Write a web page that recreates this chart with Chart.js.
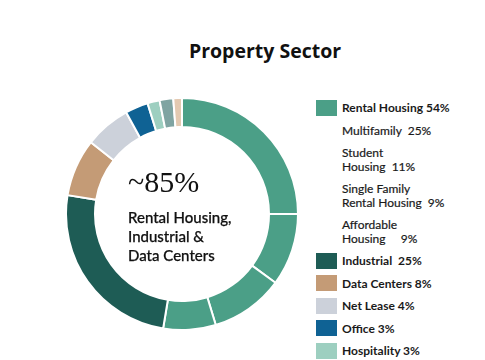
<!DOCTYPE html>
<html>
<head>
<meta charset="utf-8">
<script src="https://cdn.jsdelivr.net/npm/chart.js@4.4.1/dist/chart.umd.min.js"></script>
<style>
  html, body { margin: 0; padding: 0; background: #fff; }
  body { width: 485px; height: 360px; position: relative; overflow: hidden; font-family: Lato, "Open Sans", sans-serif; color: #1a1a1a; }
  #title { position: absolute; left: 165px; top: 37px; width: 200px; text-align: center; font-family: "Open Sans", Lato, sans-serif; font-weight: 700; font-size: 19.5px; color: #111; }
  #donut { position: absolute; left: 65px; top: 97px; width: 234px; height: 234px; }
  #center { position: absolute; left: 128px; top: 166px; }
  #center .big { font-family: "Liberation Serif", "DejaVu Serif", serif; font-size: 30px; line-height: 32px; color: #111; }
  #center .sub { margin-top: 10px; font-size: 15px; line-height: 19px; color: #111; font-weight: 500; -webkit-text-stroke: 0.25px #111; }
  #legend { position: absolute; left: 316px; top: 101px; width: 165px; }
  .entry { position: relative; padding-left: 26px; font-size: 12px; line-height: 13.5px; margin-bottom: 9px; white-space: pre; color: #1a1a1a; -webkit-text-stroke: 0.2px #1a1a1a; }
  .entry.main { font-weight: 700; -webkit-text-stroke: 0; }
  .entry .box { position: absolute; left: 0; top: -1.25px; width: 21px; height: 16px; }
</style>
</head>
<body>
<div id="title">Property Sector</div>
<div id="donut"><canvas id="c"></canvas></div>
<div id="center">
  <div class="big">~85%</div>
  <div class="sub">Rental Housing,<br>Industrial &amp;<br>Data Centers</div>
</div>
<div id="legend"></div>
<script>
// Slices, clockwise from 12 o'clock (shares)
const sliceLabels = ['Multifamily', 'Student Housing', 'Single Family Rental Housing', 'Affordable Housing',
  'Industrial', 'Data Centers', 'Net Lease', 'Office', 'Hospitality', 'Other A', 'Other B'];
const sliceValues = [25, 10.1, 10.2, 7.3, 25, 8, 6.4, 3.2, 1.7, 1.9, 1.2];
const sliceColors = ['#4b9f87', '#4b9f87', '#4b9f87', '#4b9f87', '#1e5c55', '#c49b76', '#ccd1da',
  '#0f6294', '#9dcfc0', '#7fa4a2', '#e3c9b1'];

// Legend text (as printed in the picture)
const legendLabels = ['Rental Housing', 'Multifamily', 'Student\nHousing', 'Single Family\nRental Housing',
  'Affordable\nHousing', 'Industrial', 'Data Centers', 'Net Lease', 'Office', 'Hospitality'];
const legendValues = ['54%', '25%', '11%', '9%', '9%', '25%', '8%', '4%', '3%', '3%'];
const legendGaps = ['', '  ', '  ', '  ', '     ', '  ', ' ', ' ', ' ', ' '];
const legendMain = [true, false, false, false, false, true, true, true, true, true];
const legendColors = ['#4b9f87', null, null, null, null, '#1e5c55', '#c49b76', '#ccd1da', '#0f6294', '#9dcfc0'];

const legend = document.getElementById('legend');
legendLabels.forEach((lab, i) => {
  const d = document.createElement('div');
  d.className = 'entry' + (legendMain[i] ? ' main' : '');
  if (legendColors[i]) {
    const b = document.createElement('span');
    b.className = 'box';
    b.style.background = legendColors[i];
    d.appendChild(b);
  }
  d.appendChild(document.createTextNode(lab + (legendGaps[i] || ' ') + legendValues[i]));
  legend.appendChild(d);
});

new Chart(document.getElementById('c'), {
  type: 'doughnut',
  data: {
    labels: sliceLabels,
    datasets: [{
      data: sliceValues,
      backgroundColor: sliceColors,
      borderColor: '#ffffff',
      borderWidth: 2
    }]
  },
  options: {
    responsive: true,
    maintainAspectRatio: false,
    animation: false,
    cutout: '75%',
    layout: { padding: 0 },
    plugins: { legend: { display: false }, tooltip: { enabled: false } }
  }
});
</script>
</body>
</html>
